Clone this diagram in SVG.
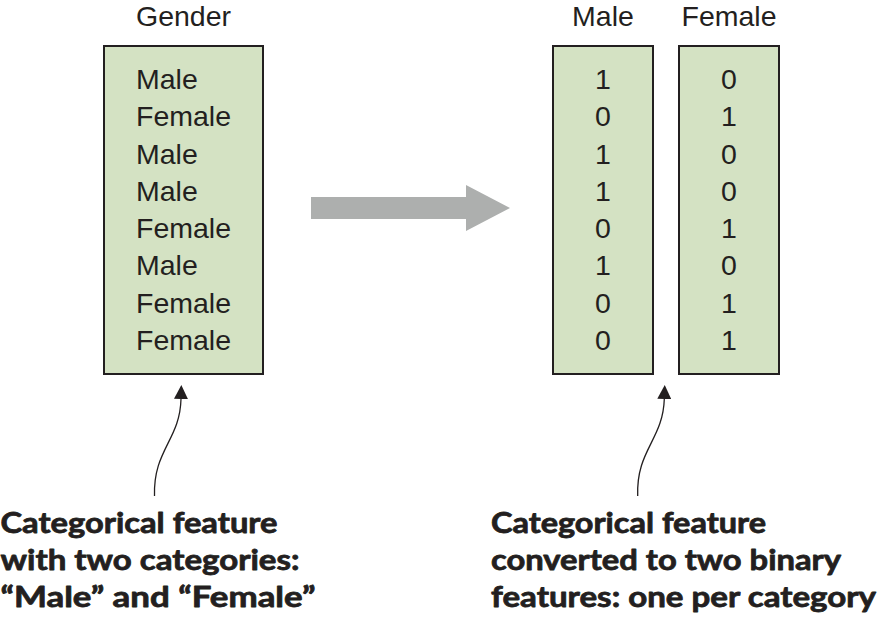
<svg xmlns="http://www.w3.org/2000/svg" width="878" height="626" viewBox="0 0 878 626">
<style>
.box{fill:#d4e2c3;stroke:#231f20;stroke-width:2}
.t{font-family:"Liberation Sans",Arial,sans-serif;font-size:28.5px;fill:#231f20}
.c{text-anchor:middle}
.b{font-family:Lato,"Open Sans",sans-serif;font-weight:bold;font-size:29px;fill:#231f20;stroke:#231f20;stroke-width:0.8;stroke-linejoin:round}
.call{fill:none;stroke:#231f20;stroke-width:1.3}
</style>
<defs>
<marker id="ah" markerUnits="userSpaceOnUse" markerWidth="16" markerHeight="14" refX="0" refY="7" orient="auto" viewBox="0 0 16 14">
<path d="M0,0 L14,7 L0,14 Z" fill="#231f20"/>
</marker>
</defs>
<rect width="878" height="626" fill="#fff"/>
<g id="gender">
<text class="t c" x="183.5" y="26">Gender</text>
<rect class="box" x="104" y="46" width="159" height="328"/>
<text class="t" x="136" y="89">Male</text>
<text class="t" x="136" y="126.3">Female</text>
<text class="t" x="136" y="163.6">Male</text>
<text class="t" x="136" y="200.9">Male</text>
<text class="t" x="136" y="238.1">Female</text>
<text class="t" x="136" y="275.4">Male</text>
<text class="t" x="136" y="312.7">Female</text>
<text class="t" x="136" y="350">Female</text>
</g>
<g id="male">
<text class="t c" x="603" y="26">Male</text>
<rect class="box" x="553" y="46" width="100" height="328"/>
<text class="t c" x="603" y="89">1</text>
<text class="t c" x="603" y="126.3">0</text>
<text class="t c" x="603" y="163.6">1</text>
<text class="t c" x="603" y="200.9">1</text>
<text class="t c" x="603" y="238.1">0</text>
<text class="t c" x="603" y="275.4">1</text>
<text class="t c" x="603" y="312.7">0</text>
<text class="t c" x="603" y="350">0</text>
</g>
<g id="female">
<text class="t c" x="729" y="26">Female</text>
<rect class="box" x="679" y="46" width="100" height="328"/>
<text class="t c" x="729" y="89">0</text>
<text class="t c" x="729" y="126.3">1</text>
<text class="t c" x="729" y="163.6">0</text>
<text class="t c" x="729" y="200.9">0</text>
<text class="t c" x="729" y="238.1">1</text>
<text class="t c" x="729" y="275.4">0</text>
<text class="t c" x="729" y="312.7">1</text>
<text class="t c" x="729" y="350">1</text>
</g>
<g id="label-left">
<text class="b" x="0.5" y="533" textLength="277" lengthAdjust="spacingAndGlyphs">Categorical feature</text>
<text class="b" x="0.5" y="570" textLength="299" lengthAdjust="spacingAndGlyphs">with two categories:</text>
<text class="b" x="0.5" y="607" textLength="315" lengthAdjust="spacingAndGlyphs">“Male” and “Female”</text>
</g>
<g id="label-right">
<text class="b" x="491" y="533" textLength="275" lengthAdjust="spacingAndGlyphs">Categorical feature</text>
<text class="b" x="491" y="570" textLength="350" lengthAdjust="spacingAndGlyphs">converted to two binary</text>
<text class="b" x="491" y="607" textLength="385" lengthAdjust="spacingAndGlyphs">features: one per category</text>
</g>
<g id="connectors">
<path d="M311,197 H466 V185 L510,208 L466,231 V219 H311 Z" fill="#adafae"/>
<path class="call" d="M154.5,496 C153,450 180,440 181,399" marker-end="url(#ah)"/>
<path class="call" d="M637.7,496 C636,450 663,440 664.3,399" marker-end="url(#ah)"/>
</g>
</svg>
